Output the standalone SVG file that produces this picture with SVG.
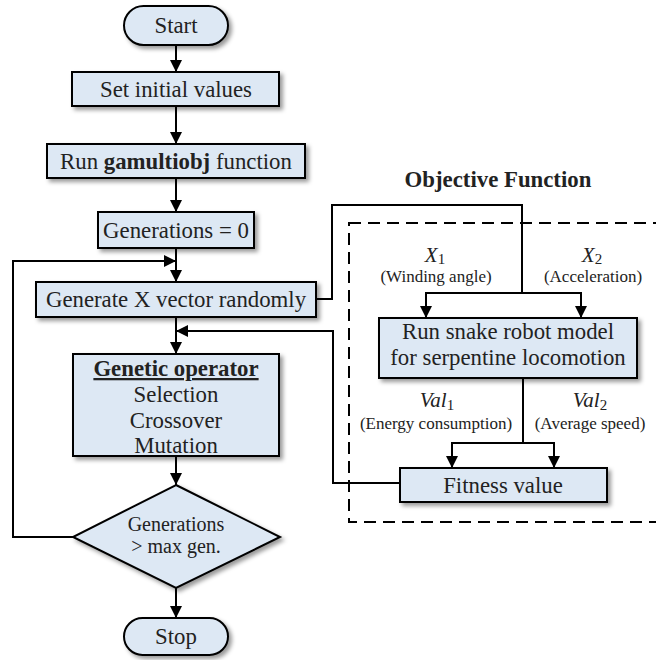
<svg xmlns="http://www.w3.org/2000/svg" width="656" height="660" viewBox="0 0 656 660">
<defs>
<filter id="sh" x="-10%" y="-20%" width="130%" height="150%">
<feDropShadow dx="3" dy="3" stdDeviation="2" flood-color="#000" flood-opacity="0.4"/>
</filter>
<marker id="ar" markerUnits="userSpaceOnUse" markerWidth="12" markerHeight="12" refX="12" refY="6" orient="auto">
<path d="M0,0 L12,6 L0,12 z" fill="#000"/>
</marker>
</defs>
<style>
.n{fill:#dde8f4;stroke:#000;stroke-width:2;filter:url(#sh)}
text{font-family:'Liberation Serif','DejaVu Serif','Noto Serif',serif;fill:#222;text-anchor:middle}
.t{font-size:22.8px}
.s{font-size:20px}
.sm{font-size:17px}
.m{font-size:21px;font-style:italic}
.c{fill:none;stroke:#000;stroke-width:2}
.a{marker-end:url(#ar)}
.d{fill:none;stroke:#000;stroke-width:2;stroke-dasharray:12,7}
</style>
<g id="objective-frame">
<rect x="349" y="223" width="320" height="299" class="d"/>
<text x="498" y="187" class="t" font-weight="bold">Objective Function</text>
</g>
<g id="connectors">
<path class="c a" d="M176,45 V72"/>
<path class="c a" d="M176,106 V144"/>
<path class="c a" d="M176,178 V212"/>
<path class="c a" d="M176,248 V282"/>
<path class="c a" d="M73,537 H13 V261 H176"/>
<path class="c a" d="M176,317 V354"/>
<path class="c" d="M316,299 H332 V205 H522 V293"/>
<path class="c a" d="M522,293 H426 V318"/>
<path class="c a" d="M522,293 H581 V318"/>
<path class="c a" d="M176,456 V485"/>
<path class="c a" d="M176,588 V618"/>
<path class="c a" d="M523,378 V443 H452 V468"/>
<path class="c a" d="M523,443 H554 V468"/>
<path class="c a" d="M400,483 H333 V331 H176"/>
<text x="435" y="262" class="m">X<tspan font-style="normal" font-size="15" dy="2">1</tspan></text>
<text x="436" y="282" class="sm">(Winding angle)</text>
<text x="592" y="262" class="m">X<tspan font-style="normal" font-size="15" dy="2">2</tspan></text>
<text x="593" y="282" class="sm">(Acceleration)</text>
<text x="437" y="407" class="m">Val<tspan font-style="normal" font-size="15" dy="3">1</tspan></text>
<text x="436" y="429" class="sm">(Energy consumption)</text>
<text x="590" y="407" class="m">Val<tspan font-style="normal" font-size="15" dy="3">2</tspan></text>
<text x="590" y="429" class="sm">(Average speed)</text>
</g>
<g id="start">
<rect x="124" y="6" width="104" height="39" rx="19.5" class="n"/>
<text x="176" y="33" class="t">Start</text>
</g>
<g id="set-initial">
<rect x="72" y="72" width="207" height="34" class="n"/>
<text x="176" y="97" class="t">Set initial values</text>
</g>
<g id="run-gamultiobj">
<rect x="47" y="144" width="258" height="34" class="n"/>
<text x="176" y="169" class="t">Run <tspan font-weight="bold">gamultiobj</tspan> function</text>
</g>
<g id="generations-zero">
<rect x="98" y="212" width="156" height="36" class="n"/>
<text x="176" y="238" class="t">Generations = 0</text>
</g>
<g id="generate-x">
<rect x="36" y="282" width="280" height="35" class="n"/>
<text x="176" y="307" class="t">Generate X vector randomly</text>
</g>
<g id="genetic-operator">
<rect x="73" y="354" width="206" height="102" class="n"/>
<text x="176" y="376" class="t" font-weight="bold" text-decoration="underline">Genetic operator</text>
<text x="176" y="402" class="t">Selection</text>
<text x="176" y="428" class="t">Crossover</text>
<text x="176" y="453" class="t">Mutation</text>
</g>
<g id="decision">
<polygon points="176,485 280,537 176,588 73,537" class="n"/>
<text x="176" y="531" class="s">Generations</text>
<text x="176" y="553" class="s">&gt; max gen.</text>
</g>
<g id="stop">
<rect x="124" y="618" width="104" height="37" rx="18.5" class="n"/>
<text x="176" y="644" class="t">Stop</text>
</g>
<g id="snake-model">
<rect x="379" y="318" width="258" height="60" class="n"/>
<text x="508" y="339" class="t">Run snake robot model</text>
<text x="508" y="365" class="t">for serpentine locomotion</text>
</g>
<g id="fitness">
<rect x="400" y="468" width="207" height="34" class="n"/>
<text x="503" y="493" class="t">Fitness value</text>
</g>
</svg>
